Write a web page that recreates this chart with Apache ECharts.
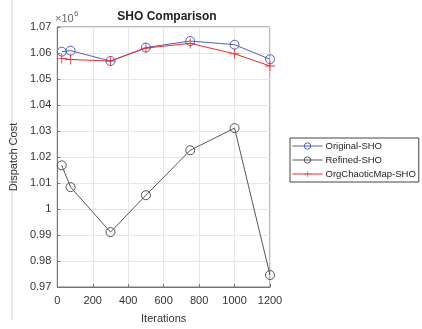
<!DOCTYPE html>
<html>
<head>
<meta charset="utf-8">
<script src="https://cdn.jsdelivr.net/npm/echarts@6/dist/echarts.min.js"></script>
<style>
html, body { margin: 0; padding: 0; background: #fff; }
#main { width: 422px; height: 329px; }
</style>
</head>
<body>
<div id="main"></div>
<script>
// iterations and dispatch cost (x 10^6)
var iterations = [25, 75, 300, 500, 750, 1000, 1200];
var originalSHO = [1.0605, 1.0609, 1.0569, 1.0621, 1.0646, 1.0632, 1.0576];
var refinedSHO = [1.0168, 1.0084, 0.9911, 1.0053, 1.0226, 1.0311, 0.9746];
var chaoticSHO = [1.0579, 1.0575, 1.0569, 1.0619, 1.0637, 1.0597, 1.0550];

function pairs(ys) {
    return iterations.map(function (x, i) { return [x, ys[i]]; });
}

var plusIcon = 'path://M4.6,0 h0.8 v4.6 h4.6 v0.8 h-4.6 v4.6 h-0.8 v-4.6 h-4.6 v-0.8 h4.6 z';
var font = 'Liberation Sans, Arial, sans-serif';

var myChart = echarts.init(document.getElementById('main'));
var option = {
    animation: false,
    textStyle: { fontFamily: font },
    title: {
        text: 'SHO Comparison',
        left: 162,
        textAlign: 'center',
        top: 6,
        textStyle: { fontSize: 12, fontWeight: 'bold', color: '#222', fontFamily: font }
    },
    graphic: [
        { type: 'line', shape: { x1: 12, y1: 0, x2: 12, y2: 320 }, style: { stroke: '#ccc', lineWidth: 1 } },
        { type: 'text', left: 55, top: 13, style: { text: '×10', fontSize: 11, fill: '#666', fontFamily: font } },
        { type: 'text', left: 74, top: 10, style: { text: '6', fontSize: 8, fill: '#666', fontFamily: font } }
    ],
    legend: {
        orient: 'vertical',
        left: 290,
        top: 138,
        itemWidth: 30,
        itemHeight: 8,
        itemGap: 4,
        padding: [3, 3, 3, 2],
        borderColor: '#444',
        borderWidth: 1,
        backgroundColor: '#fff',
        lineStyle: { width: 1 },
        itemStyle: { borderWidth: 1 },
        textStyle: { fontSize: 9.5, color: '#222', fontFamily: font, padding: [0, 0, 0, -2] },
        data: ['Original-SHO', 'Refined-SHO', 'OrgChaoticMap-SHO']
    },
    grid: {
        left: 53.5, right: 152, top: 27, bottom: 36,
        show: true, borderColor: '#777', borderWidth: 1
    },
    xAxis: {
        type: 'value',
        min: 0, max: 1200, interval: 200,
        name: 'Iterations',
        nameLocation: 'middle',
        nameGap: 26,
        nameTextStyle: { fontSize: 11, color: '#333' },
        axisLine: { lineStyle: { color: '#777' } },
        axisTick: { inside: true, length: 3, lineStyle: { color: '#777' } },
        axisLabel: {
            fontSize: 11, color: '#333', margin: 8,
            formatter: function (v) { return String(v); }
        },
        splitLine: { show: true, lineStyle: { color: '#e6e6e6' } }
    },
    yAxis: {
        type: 'value',
        min: 0.97, max: 1.07, interval: 0.01,
        name: 'Dispatch Cost',
        nameLocation: 'middle',
        nameGap: 34,
        nameTextStyle: { fontSize: 11, color: '#333' },
        axisLine: { show: true, lineStyle: { color: '#777' } },
        axisTick: { show: true, inside: true, length: 3, lineStyle: { color: '#777' } },
        axisLabel: {
            fontSize: 11, color: '#333', margin: 6,
            formatter: function (v) { return String(parseFloat(v.toFixed(2))); }
        },
        splitLine: { show: true, lineStyle: { color: '#e6e6e6' } }
    },
    series: [
        {
            name: 'Original-SHO',
            type: 'line',
            data: pairs(originalSHO),
            symbol: 'circle',
            symbolSize: 9,
            lineStyle: { color: '#4b5fc4', width: 1 },
            itemStyle: { color: 'rgba(255,255,255,0)', borderColor: '#4b5fc4', borderWidth: 1 }
        },
        {
            name: 'Refined-SHO',
            type: 'line',
            data: pairs(refinedSHO),
            symbol: 'circle',
            symbolSize: 9,
            lineStyle: { color: '#555', width: 1 },
            itemStyle: { color: 'rgba(255,255,255,0)', borderColor: '#555', borderWidth: 1 }
        },
        {
            name: 'OrgChaoticMap-SHO',
            type: 'line',
            data: pairs(chaoticSHO),
            symbol: plusIcon,
            symbolSize: 10,
            lineStyle: { color: '#f02828', width: 1 },
            itemStyle: { color: '#f02828' }
        }
    ]
};
myChart.setOption(option);
</script>
</body>
</html>
